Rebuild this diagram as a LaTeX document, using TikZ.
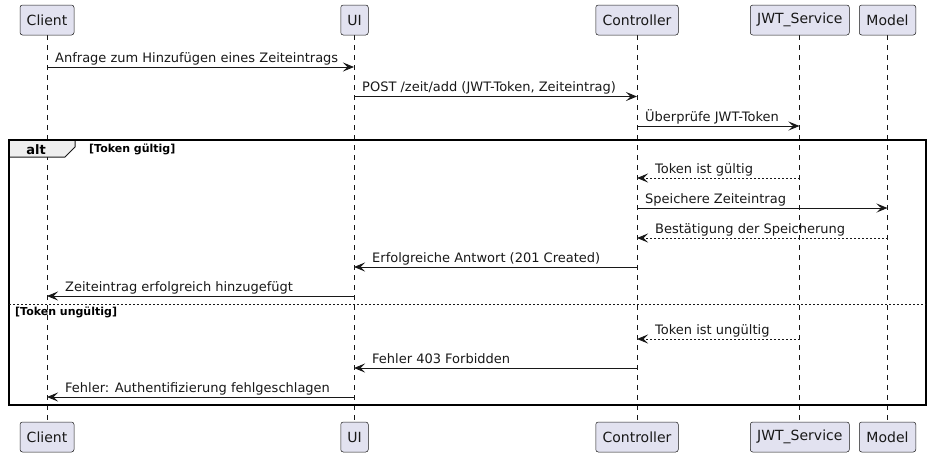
\documentclass[tikz,border=0pt]{standalone}
\usepackage{fontspec}
\setmainfont{DejaVu Sans}
\usetikzlibrary{arrows.meta}
\definecolor{pfill}{HTML}{E2E2F0}
\definecolor{ink}{HTML}{181818}
\definecolor{tabfill}{HTML}{EEEEEE}
\tikzset{
  part/.style={draw=ink, fill=pfill, line width=0.5pt, rounded corners=2.5pt,
    inner sep=0pt, font=\fontsize{14}{16}\selectfont, text=ink},
  life/.style={draw=ink, line width=0.5pt, dash pattern=on 5pt off 5pt},
  msg/.style={draw=ink, line width=1pt, -{Stealth[length=11pt,width=9pt,inset=4.5pt]}},
  ret/.style={msg, dash pattern=on 2pt off 2pt},
  lbl/.style={font=\fontsize{13}{15}\selectfont, text=ink, inner sep=0pt, anchor=base west},
  grp/.style={font=\bfseries\fontsize{11}{12}\selectfont, text=black, inner sep=0pt},
}
\begin{document}
\begin{tikzpicture}[x=1pt,y=-1pt]
\useasboundingbox (0,0) rectangle (931,456);
% lifelines
\foreach \n/\x in {cl/47,ui/354,co/637,jw/799.5,mo/887.5}{
  \coordinate (\n t) at (\x,35);
  \coordinate (\n b) at (\x,422);
  \draw[life] (\n t) -- (\n b);
}
% participants top
\node[part, minimum width=54pt, minimum height=30pt] (clT) at (47,20) {Client};
\node[part, minimum width=27.5pt, minimum height=30pt] (uiT) at (354.5,20) {UI};
\node[part, minimum width=82.5pt, minimum height=30pt] (coT) at (637,20) {Controller};
\node[part, minimum width=99pt, minimum height=30pt] (jwT) at (799.8,20) {JWT\_Service};
\node[part, minimum width=56.5pt, minimum height=30pt] (moT) at (887.5,20) {Model};
% participants bottom
\node[part, minimum width=54pt, minimum height=30pt] (clB) at (47,437) {Client};
\node[part, minimum width=27.5pt, minimum height=30pt] (uiB) at (354.5,437) {UI};
\node[part, minimum width=82.5pt, minimum height=30pt] (coB) at (637,437) {Controller};
\node[part, minimum width=99pt, minimum height=30pt] (jwB) at (799.8,437) {JWT\_Service};
\node[part, minimum width=56.5pt, minimum height=30pt] (moB) at (887.5,437) {Model};
% alt frame
\coordinate (fA) at (9,140);
\coordinate (fB) at (926,405);
\draw[fill=tabfill, draw=ink, line width=1pt] (9,140) -- (75,140) -- (75,147) -- (65,157) -- (9,157) -- cycle;
\draw[draw=black, line width=1.5pt] (fA) rectangle (fB);
\node[grp, anchor=base, font=\bfseries\fontsize{13}{14}\selectfont] (altL) at (36,154) {alt};
\node[grp, anchor=base west] (g1) at (89,152) {[Token gültig]};
\coordinate (dvA) at (9,304);
\coordinate (dvB) at (926,304);
\draw[draw=ink, line width=1pt, dash pattern=on 2pt off 2pt] (dvA) -- (dvB);
\node[grp, anchor=base west] (g2) at (15,315) {[Token ungültig]};
% messages
\coordinate (m1a) at (47,67);   \coordinate (m1b) at (354,67);
\coordinate (m2a) at (354,96.5); \coordinate (m2b) at (637,96.5);
\coordinate (m3a) at (637,126); \coordinate (m3b) at (799.5,126);
\coordinate (m4a) at (799.5,178); \coordinate (m4b) at (637,178);
\coordinate (m5a) at (637,208); \coordinate (m5b) at (887.5,208);
\coordinate (m6a) at (887.5,238); \coordinate (m6b) at (637,238);
\coordinate (m7a) at (637,267); \coordinate (m7b) at (354,267);
\coordinate (m8a) at (354,296); \coordinate (m8b) at (47,296);
\coordinate (m9a) at (799.5,339); \coordinate (m9b) at (637,339);
\coordinate (m10a) at (637,368); \coordinate (m10b) at (354,368);
\coordinate (m11a) at (354,397); \coordinate (m11b) at (47,397);
\draw[msg] (m1a) -- (m1b);
\draw[msg] (m2a) -- (m2b);
\draw[msg] (m3a) -- (m3b);
\draw[ret] (m4a) -- (m4b);
\draw[msg] (m5a) -- (m5b);
\draw[ret] (m6a) -- (m6b);
\draw[msg] (m7a) -- (m7b);
\draw[msg] (m8a) -- (m8b);
\draw[ret] (m9a) -- (m9b);
\draw[msg] (m10a) -- (m10b);
\draw[msg] (m11a) -- (m11b);
\node[lbl] (t1) at (55,62) {Anfrage zum Hinzufügen eines Zeiteintrags};
\node[lbl] (t2) at (362,91.5) {POST /zeit/add (JWT-Token, Zeiteintrag)};
\node[lbl] (t3) at (645,121) {Überprüfe JWT-Token};
\node[lbl] (t4) at (655,173) {Token ist gültig};
\node[lbl] (t5) at (645,203) {Speichere Zeiteintrag};
\node[lbl] (t6) at (655,233) {Bestätigung der Speicherung};
\node[lbl] (t7) at (372,262) {Erfolgreiche Antwort (201 Created)};
\node[lbl] (t8) at (65,291) {Zeiteintrag erfolgreich hinzugefügt};
\node[lbl] (t9) at (655,334) {Token ist ungültig};
\node[lbl] (t10) at (372,363) {Fehler 403 Forbidden};
\node[lbl] (t11) at (65,392) {Fehler: Authentifizierung fehlgeschlagen};
\end{tikzpicture}
\end{document}
